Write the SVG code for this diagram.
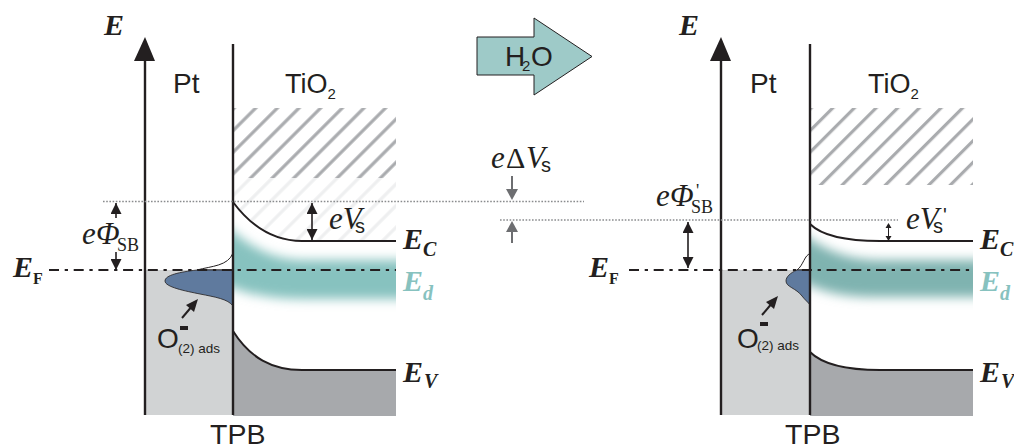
<svg xmlns="http://www.w3.org/2000/svg" width="1014" height="446" viewBox="0 0 1014 446">
<style>
.s{font-family:"Liberation Sans",Arial,sans-serif;fill:#231f20}
.t{font-family:"Liberation Serif","Times New Roman",serif;fill:#231f20}
.i{font-style:italic;font-size:31px}
.b{font-style:italic;font-weight:bold;font-size:30px}
.n{font-size:18px}
.u{font-family:"Liberation Serif","Times New Roman",serif;font-weight:bold;font-size:16px;fill:#231f20}
.j{font-size:20px;font-style:italic;font-weight:bold}
.ed{fill:#87c2bf}
.c{fill:none;stroke:#231f20;stroke-width:2}
.ax{fill:none;stroke:#231f20;stroke-width:2.4}
.ef{fill:none;stroke:#231f20;stroke-width:1.8;stroke-dasharray:10 5.700 3.300 5.700}
.dot{fill:none;stroke:#8a8c8e;stroke-width:1.6;stroke-dasharray:1.600 1.600}
.ar{fill:none;stroke:#231f20;stroke-width:1.6}
.ag{fill:none;stroke:#6d6e71;stroke-width:2}
</style>
<defs>
<pattern id="hd" width="15.3" height="15.3" patternUnits="userSpaceOnUse" patternTransform="rotate(45)"><rect x="10.800" width="3.200" height="15.3" fill="#a9abae"/></pattern>
<pattern id="hr" width="15.3" height="15.3" patternUnits="userSpaceOnUse" patternTransform="rotate(45)"><rect x="5.700" width="3.200" height="15.3" fill="#a9abae"/></pattern>
<pattern id="hl" width="15.3" height="15.3" patternUnits="userSpaceOnUse" patternTransform="rotate(45)"><rect x="10.800" width="3.200" height="15.3" fill="#eeeff0"/></pattern>
<filter id="bl" x="-20%" y="-40%" width="140%" height="180%"><feGaussianBlur stdDeviation="5.500"/></filter>
<clipPath id="cl"><rect x="234" y="205" width="162" height="120"/></clipPath>
<clipPath id="cr"><rect x="811" y="205" width="162" height="120"/></clipPath>
<marker id="m" viewBox="0 0 10 10" refX="10" refY="5" markerWidth="11" markerHeight="11" markerUnits="userSpaceOnUse" orient="auto-start-reverse"><path d="M0 0L10 5L0 10Z" fill="#231f20"/></marker>
</defs>

<g id="left-panel">
<rect x="145" y="270" width="88" height="145" fill="#d1d3d4"/>
<rect x="233" y="108" width="163" height="70" fill="url(#hd)"/>
<path d="M233 178H396V241H302C272 241 250 225 233 202Z" fill="url(#hl)"/>
<path d="M233 202C250 225 272 241 302 241H396V250H233Z" fill="#fff"/>
<g clip-path="url(#cl)"><path d="M215 215C250 250 275 260 305 260H420V299H305C270 299 245 295 215 280Z" fill="#87c2bf" filter="url(#bl)"/></g>
<path d="M233 331C250 358 272 370 302 370H396V416H233Z" fill="#a7a9ac"/>
<path d="M233 331C250 358 272 370 302 370H396" class="c"/>
<path d="M233 202C250 225 272 241 302 241H396" class="c"/>
<path d="M197 270C212 266 228 266 233 253V270Z" fill="#fff" stroke="#231f20" stroke-width="1"/>
<path d="M197 270C180 272 165 275 165 281C165 287 185 291 200 294C215 297 228 299 233 306V270Z" fill="#5f7a9e" stroke="#231f20" stroke-width="0.8"/>
<path d="M145 415V60" class="ax"/>
<path d="M145 37L155 61H134Z" fill="#231f20"/>
<path d="M233 44V415" class="ax"/>
</g>

<g id="right-panel">
<rect x="721" y="270" width="89" height="145" fill="#d1d3d4"/>
<rect x="810" y="108" width="163" height="77" fill="url(#hr)"/>
<g clip-path="url(#cr)"><path d="M795 228C825 252 850 260 880 260H997V297H880C850 297 825 295 795 278Z" fill="#7fb3b0" filter="url(#bl)"/></g>
<path d="M810 352C822 364 845 370 880 370H973V416H810Z" fill="#a7a9ac"/>
<path d="M810 352C822 364 845 370 880 370H973" class="c"/>
<path d="M810 224C822 236 845 241 880 241H973" class="c"/>
<path d="M797 270C803 266 805 254 810 254V270Z" fill="#fff" stroke="#231f20" stroke-width="1"/>
<path d="M797 270C790 273 786 277 786 281C786 287 796 288 802 296C805 300 808 302 810 305V270Z" fill="#5f7a9e" stroke="#231f20" stroke-width="0.8"/>
<path d="M721 415V60" class="ax"/>
<path d="M721 37L731 61H710Z" fill="#231f20"/>
<path d="M810 44V415" class="ax"/>
</g>

<g id="connectors">
<path d="M49 270H396" class="ef"/>
<path d="M629 270H973" class="ef"/>
<path d="M103 201.500H584" class="dot"/>
<path d="M500 220H898" class="dot"/>
<path d="M116 218V203" class="ar" marker-end="url(#m)"/>
<path d="M116 252V270" class="ar" marker-end="url(#m)"/>
<path d="M312 203V240" class="ar" marker-start="url(#m)" marker-end="url(#m)"/>
<path d="M688 222V268" class="ar" marker-start="url(#m)" marker-end="url(#m)"/>
<path d="M888.500 224V240" stroke="#231f20" stroke-width="1"/>
<path d="M885.500 228L888.500 223L891.500 228ZM885.500 236L888.500 241L891.500 236Z" fill="#231f20"/>
<path d="M512 176V190" class="ag"/><path d="M506 189H518L512 200Z" fill="#6d6e71"/>
<path d="M512 243V231" class="ag"/><path d="M506 232H518L512 221Z" fill="#6d6e71"/>
<path d="M182 318L193 305" class="ar" style="stroke-width:2"/><path d="M198 299L194 312L186 305Z" fill="#231f20"/>
<path d="M762 315L773 302" class="ar" style="stroke-width:2"/><path d="M778 296L774 309L766 302Z" fill="#231f20"/>
</g>

<g id="h2o-arrow">
<path d="M477 37H534V18L592 56.500L534 95V75H477Z" fill="#9ecac8" stroke="#231f20" stroke-width="1"/>
<text x="505" y="66" class="s" font-size="28">H</text><text x="522" y="71" class="s" font-size="15">2</text><text x="531" y="66" class="s" font-size="28">O</text>
</g>

<g id="labels">
<text x="104" y="35" class="t b">E</text>
<text x="679" y="35" class="t b">E</text>
<text x="173" y="93" class="s" font-size="28">Pt</text>
<text x="750" y="93" class="s" font-size="28">Pt</text>
<text x="285" y="93" class="s" font-size="27">TiO<tspan font-size="15" dy="6">2</tspan></text>
<text x="868" y="93" class="s" font-size="27">TiO<tspan font-size="15" dy="6">2</tspan></text>
<text x="210" y="444" class="s" font-size="28.500">TPB</text>
<text x="785" y="444" class="s" font-size="28.500">TPB</text>
<text x="82" y="244" class="t i">e</text><text x="96" y="244" class="t i">Φ</text><text x="117" y="251" class="t n">SB</text>
<text x="656" y="206" class="t i">e</text><text x="670" y="206" class="t i">Φ</text><text x="691" y="213" class="t n">SB</text><text x="696" y="197" class="t n">'</text>
<text x="329" y="229" class="t i">eV</text><text x="355" y="233" class="s" font-size="20">s</text>
<text x="906" y="229" class="t i">eV</text><text x="933" y="233" class="s" font-size="20">s</text><text x="943" y="222" class="s" font-size="20">'</text>
<text x="491" y="168" class="t i">e</text><text x="506" y="168" class="t" font-size="30">Δ</text><text x="526" y="168" class="t i">V</text><text x="541" y="172" class="s" font-size="20">s</text>
<text x="13" y="277" class="t b">E</text><text x="33" y="284" class="u">F</text>
<text x="589" y="277" class="t b">E</text><text x="609" y="284" class="u">F</text>
<text x="403" y="249" class="t b">E</text><text x="423" y="256" class="t j">C</text>
<text x="980" y="249" class="t b">E</text><text x="1000" y="256" class="t j">C</text>
<text x="403" y="291" class="t b ed">E</text><text x="423" y="300" class="t j ed">d</text>
<text x="980" y="291" class="t b ed">E</text><text x="1000" y="300" class="t j ed">d</text>
<text x="403" y="382" class="t b">E</text><text x="424" y="388" class="t j">V</text>
<text x="980" y="382" class="t b">E</text><text x="1001" y="388" class="t j">V</text>
<text x="157" y="348" class="s" font-size="28">O</text><text x="178" y="353" class="s" font-size="13.500">(2) ads</text><rect x="180" y="326" width="8" height="4" fill="#231f20"/>
<text x="737" y="348" class="s" font-size="28">O</text><text x="757" y="350" class="s" font-size="13.500">(2) ads</text><rect x="760" y="322" width="8" height="4" fill="#231f20"/>
</g>
</svg>
